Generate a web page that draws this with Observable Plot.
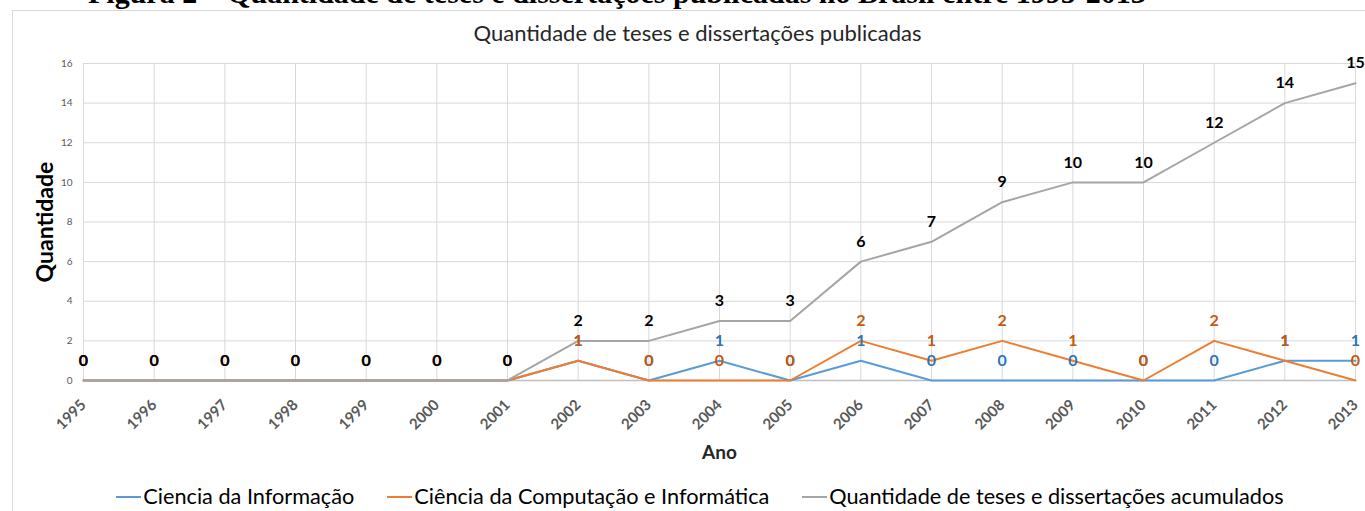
<!DOCTYPE html>
<html>
<head>
<meta charset="utf-8">
<script src="https://cdn.jsdelivr.net/npm/d3@7"></script>
<script src="https://cdn.jsdelivr.net/npm/@observablehq/plot@0.6"></script>
<style>
  html, body { margin: 0; padding: 0; background: #fff; overflow: hidden; }
  #wrap { position: relative; width: 1365px; height: 511px; overflow: hidden; }
  #fig { position: absolute; left: 88px; top: -24px; font-family: "Liberation Serif", serif; font-weight: bold; font-size: 30px; line-height: 34px; white-space: nowrap; color: #000; }
  #frame { position: absolute; left: 12px; top: 10px; width: 1400px; height: 520px; border: 1px solid #d9d9d9; box-sizing: border-box; background: transparent; }
  #title { position: absolute; left: 0; width: 1395px; top: 20px; text-align: center; font-family: Lato, sans-serif; font-size: 22px; line-height: 26px; color: #262626; white-space: nowrap; }
  #ylabel { position: absolute; left: 44px; top: 222px; transform: translate(-50%, -50%) rotate(-90deg); font-family: Lato, sans-serif; font-weight: bold; font-size: 23px; line-height: 28px; color: #000; white-space: nowrap; }
  #chart { position: absolute; left: 0; top: 0; }
  #legend { position: absolute; top: 484px; left: 0; width: 1400px; display: flex; justify-content: center; gap: 33px; font-family: Lato, sans-serif; font-size: 21.7px; line-height: 25px; color: #000; white-space: nowrap; }
  #legend .item { display: flex; align-items: center; }
  #legend .sw { width: 25px; height: 2px; margin-right: 2px; }
</style>
</head>
<body>
<div id="wrap">
  <div id="fig">Figura 2 – Quantidade de teses e dissertações publicadas no Brasil entre 1995-2013</div>
  <div id="frame"></div>
  <div id="title">Quantidade de teses e dissertações publicadas</div>
  <div id="chart"></div>
  <div id="ylabel">Quantidade</div>
  <div id="legend"></div>
</div>
<script>
const years = [1995,1996,1997,1998,1999,2000,2001,2002,2003,2004,2005,2006,2007,2008,2009,2010,2011,2012,2013];
const cienciaInformacao = [0,0,0,0,0,0,0,1,0,1,0,1,0,0,0,0,0,1,1];
const cienciaComputacao = [0,0,0,0,0,0,0,1,0,0,0,2,1,2,1,0,2,1,0];
const acumulados = [0,0,0,0,0,0,0,2,2,3,3,6,7,9,10,10,12,14,15];
const seriesNames = ["Ciencia da Informação", "Ciência da Computação e Informática", "Quantidade de teses e dissertações acumulados"];
const seriesColors = ["#5b9bd5", "#ed7d31", "#a5a5a5"];
const labelColors = ["#2e75b6", "#c55a11", "#000000"];
const yTicks = [0,2,4,6,8,10,12,14,16];

const seriesValues = [cienciaInformacao, cienciaComputacao, acumulados];
const rows = seriesValues.map((vals) => years.map((yr, i) => ({year: yr, value: vals[i]})));

const lineMarks = rows.map((r, k) => Plot.line(r, {x: "year", y: "value", stroke: seriesColors[k], strokeWidth: 2}));
const labelMarks = rows.map((r, k) => Plot.text(r, {x: "year", y: "value", text: d => String(d.value), dy: -20, fill: labelColors[k], fontWeight: "bold", fontSize: 16, fontFamily: "Lato, sans-serif"}));

const chart = Plot.plot({
  width: 1365,
  height: 470,
  marginLeft: 83,
  marginRight: 10,
  marginTop: 63,
  marginBottom: 90,
  style: {fontFamily: "Lato, sans-serif", background: "transparent", overflow: "visible"},
  x: {domain: [1995, 2013], axis: null},
  y: {domain: [0, 16]},
  marks: [
    Plot.gridY(yTicks, {stroke: "#d9d9d9", strokeOpacity: 1}),
    Plot.gridX(years, {stroke: "#d9d9d9", strokeOpacity: 1}),
    Plot.ruleY([0], {stroke: "#bfbfbf", strokeWidth: 1.5}),
    Plot.axisY(yTicks, {tickSize: 0, tickPadding: 11, fontSize: 10, fill: "#595959", label: null}),
    Plot.text(years, {x: d => d, frameAnchor: "bottom", dy: 22, rotate: -45, textAnchor: "end", lineAnchor: "middle", text: d => String(d), fontSize: 15, fontWeight: "bold", fill: "#595959"}),
    Plot.text(["Ano"], {frameAnchor: "bottom", dy: 72, lineAnchor: "middle", fontSize: 19, fontWeight: "bold", fill: "#262626"}),
    ...lineMarks,
    ...labelMarks
  ]
});
document.getElementById("chart").appendChild(chart);

const legend = document.getElementById("legend");
seriesNames.forEach((name, k) => {
  const it = document.createElement("div");
  it.className = "item";
  const sw = document.createElement("div");
  sw.className = "sw";
  sw.style.background = seriesColors[k];
  const tx = document.createElement("span");
  tx.textContent = name;
  it.appendChild(sw); it.appendChild(tx);
  legend.appendChild(it);
});
</script>
</body>
</html>
